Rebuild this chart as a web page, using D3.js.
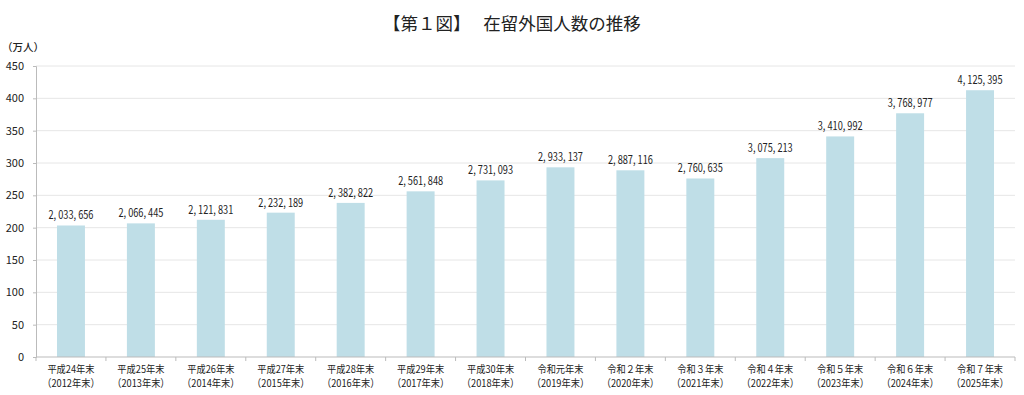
<!DOCTYPE html>
<html>
<head>
<meta charset="utf-8">
<script src="https://cdn.jsdelivr.net/npm/d3@7"></script>
<style>
  body { margin: 0; background: #fff; }
  text { font-family: "Liberation Sans Narrow", "Noto Sans CJK JP", sans-serif; fill: #222; }
</style>
</head>
<body>
<svg width="1024" height="395"></svg>
<script>
const eraLabels = ["平成24年末", "平成25年末", "平成26年末", "平成27年末", "平成28年末", "平成29年末", "平成30年末",
  "令和元年末", "令和２年末", "令和３年末", "令和４年末", "令和５年末", "令和６年末", "令和７年末"];
const yearLabels = ["（2012年末）", "（2013年末）", "（2014年末）", "（2015年末）", "（2016年末）", "（2017年末）", "（2018年末）",
  "（2019年末）", "（2020年末）", "（2021年末）", "（2022年末）", "（2023年末）", "（2024年末）", "（2025年末）"];
const residents = [2033656, 2066445, 2121831, 2232189, 2382822, 2561848, 2731093,
  2933137, 2887116, 2760635, 3075213, 3410992, 3768977, 4125395];
const yTicks = [0, 50, 100, 150, 200, 250, 300, 350, 400, 450];

const margin = { left: 36, right: 9, top: 66, bottom: 38 };
const width = 1024, height = 395;

const svg = d3.select("svg");

const x = d3.scaleBand()
  .domain(d3.range(residents.length))
  .range([margin.left, width - margin.right])
  .paddingInner(0.6)
  .paddingOuter(0.3);

const y = d3.scaleLinear()
  .domain([0, 450])
  .range([height - margin.bottom, margin.top]);

// title
svg.append("text")
  .attr("x", 383)
  .attr("y", 30)
  .attr("font-size", 17.5)
  .style("font-family", "'Noto Sans CJK JP', sans-serif")
  .attr("xml:space", "preserve")
  .text("【第１図】　 在留外国人数の推移");

svg.append("text")
  .attr("x", 2)
  .attr("y", 51)
  .attr("font-size", 10.5)
  .attr("font-weight", 500)
  .style("font-family", "'Noto Sans CJK JP', sans-serif")
  .text("（万人）");

// gridlines
svg.append("g")
  .selectAll("line")
  .data(yTicks.filter(d => d > 0))
  .enter()
  .append("line")
  .attr("x1", margin.left)
  .attr("x2", width - margin.right)
  .attr("y1", d => y(d))
  .attr("y2", d => y(d))
  .attr("stroke", "#e6e6e6");

// y axis
const yAxis = svg.append("g")
  .attr("transform", `translate(${margin.left},0)`)
  .call(d3.axisLeft(y).tickValues(yTicks).tickSize(3).tickPadding(9));
yAxis.select(".domain").attr("stroke", "#bbb");
yAxis.selectAll(".tick line").attr("stroke", "#bbb");
yAxis.selectAll("text").attr("font-size", 11).style("fill", "#222");

// bars
svg.append("g")
  .selectAll("rect")
  .data(residents)
  .enter()
  .append("rect")
  .attr("x", (d, i) => x(i))
  .attr("y", d => y(d / 10000))
  .attr("width", x.bandwidth())
  .attr("height", d => y(0) - y(d / 10000))
  .attr("fill", "#bfdee7");

// value labels (condensed look)
svg.append("g")
  .selectAll("text")
  .data(residents)
  .enter()
  .append("text")
  .attr("transform", (d, i) => `translate(${x(i) + x.bandwidth() / 2},${y(d / 10000) - 6}) scale(0.8,1)`)
  .attr("text-anchor", "middle")
  .attr("font-size", 11.5)
  .text(d => d3.format(",")(d).replace(/,/g, ", "));

// x axis
const xg = svg.append("g");
xg.append("line")
  .attr("x1", margin.left).attr("x2", width - margin.right)
  .attr("y1", y(0)).attr("y2", y(0))
  .attr("stroke", "#bbb");
xg.selectAll("line.tk")
  .data(d3.range(residents.length + 1))
  .enter()
  .append("line")
  .attr("class", "tk")
  .attr("x1", i => margin.left + i * x.step())
  .attr("x2", i => margin.left + i * x.step())
  .attr("y1", y(0)).attr("y2", y(0) + 4)
  .attr("stroke", "#bbb");

const cat = xg.selectAll("g.cat")
  .data(residents)
  .enter()
  .append("g")
  .attr("class", "cat")
  .attr("transform", (d, i) => `translate(${x(i) + x.bandwidth() / 2},${y(0)}) scale(0.88,1)`);
cat.append("text")
  .attr("text-anchor", "middle")
  .attr("font-size", 10.5)
  .attr("y", 16)
  .text((d, i) => eraLabels[i]);
cat.append("text")
  .attr("text-anchor", "middle")
  .attr("font-size", 10.5)
  .attr("y", 30)
  .text((d, i) => yearLabels[i]);
</script>
</body>
</html>
